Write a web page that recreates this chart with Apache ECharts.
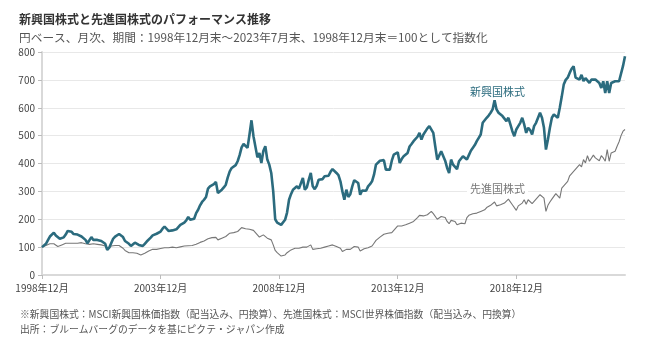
<!DOCTYPE html>
<html><head><meta charset="utf-8">
<script src="https://cdn.jsdelivr.net/npm/echarts@6/dist/echarts.min.js"></script>
<style>html,body{margin:0;padding:0;background:#fff}#c{width:650px;height:345px}</style>
</head><body><div id="c"></div>
<script>
// Monthly, 1998/12 .. 2023/07 (296 points)
const startYear = 1998, startMonth = 12, nMonths = 296;
const categories = [];
for (let i = 0; i < nMonths; i++) {
  const t = startMonth - 1 + i;
  categories.push((startYear + Math.floor(t / 12)) + '年' + (t % 12 + 1) + '月');
}
const emerging = [
  100,
  105,112,125,138,145,152,142,136,130,126,135,145,
  158,164,155,147,142,145,140,138,132,126,114,108,
  136,126,122,126,124,122,120,112,90,98,114,130,
  138,142,147,142,136,122,118,112,104,110,116,112,
  108,106,104,112,120,126,134,142,144,148,152,156,
  166,174,168,158,156,160,162,164,172,180,184,188,
  196,208,198,192,202,222,234,250,262,270,280,310,
  318,322,326,334,294,300,306,314,324,350,372,384,
  378,394,408,430,458,470,474,456,504,555,498,504,
  422,438,402,445,462,414,396,366,300,200,188,186,
  180,178,198,224,270,290,306,300,318,310,316,348,
  306,314,342,366,318,308,320,342,336,344,354,348,
  356,370,380,376,366,358,336,300,270,306,280,290,
  318,340,344,330,288,303,300,302,318,326,336,360,
  396,398,410,414,412,378,380,378,410,432,436,440,
  402,416,426,430,438,461,470,480,474,496,510,486,
  504,498,526,534,534,510,461,414,420,444,438,410,
  384,366,414,396,388,380,408,414,426,420,414,430,
  446,452,466,480,492,504,546,552,564,572,582,594,
  627,594,582,578,570,561,552,564,540,516,498,522,
  534,546,564,540,510,528,520,504,534,546,564,582,
  564,528,450,486,528,564,576,570,564,600,640,683,
  700,708,725,740,749,708,713,701,718,696,706,713,
  689,701,707,701,695,689,671,695,653,695,653,689,
  690,695,689,695,700,750,785
];
const developed = [
  100,
  104,106,110,112,114,112,106,102,104,108,110,114,
  116,114,118,114,112,114,113,116,114,112,108,110,
  114,112,108,110,108,108,106,104,90,96,104,108,
  106,104,106,102,96,88,84,80,76,80,82,78,
  74,72,72,78,84,86,90,92,90,92,94,95,
  97,98,97,98,100,100,99,98,100,101,102,104,
  103,105,103,106,108,110,114,117,120,122,128,130,
  132,134,136,135,126,128,132,134,138,144,150,156,
  152,150,156,162,170,172,166,160,164,168,160,156,
  144,136,132,144,142,132,128,126,108,88,80,76,
  68,66,72,80,86,90,94,96,98,96,98,100,
  100,100,104,108,92,90,94,90,96,98,100,102,
  104,104,108,106,102,98,96,84,86,92,90,92,
  96,102,104,100,86,90,94,96,98,100,104,114,
  124,128,136,142,146,144,150,146,152,160,168,176,
  170,176,178,180,182,186,188,192,198,206,214,210,
  212,218,216,220,228,220,216,200,196,210,214,206,
  192,184,196,198,192,180,186,186,182,184,206,214,
  214,220,220,222,226,228,232,234,242,248,250,256,
  262,248,244,252,256,258,264,272,268,252,250,232,
  248,254,258,270,254,270,264,256,262,272,278,288,
  290,276,228,250,262,272,282,292,284,276,312,320,
  324,336,356,364,370,380,384,396,388,414,402,428,
  408,414,430,420,424,410,428,420,408,450,408,438,
  436,444,462,478,500,516,522
];
const seriesNames = ['新興国株式', '先進国株式'];
const yTicks = [0, 100, 200, 300, 400, 500, 600, 700, 800];

const FONT = '"Noto Sans CJK JP", "Noto Sans", sans-serif';
const chart = echarts.init(document.getElementById('c'), null, {renderer: 'canvas'});
chart.setOption({
  animation: false,
  backgroundColor: '#fff',
  textStyle: {fontFamily: FONT},
  title: [
    {text: '新興国株式と先進国株式のパフォーマンス推移', left: 14, top: 8,
     textStyle: {fontSize: 12, fontWeight: 'bold', color: '#333', fontFamily: FONT}},
    {text: '円ベース、月次、期間：1998年12月末～2023年7月末、1998年12月末＝100として指数化', left: 14, top: 27,
     textStyle: {fontSize: 11.7, fontWeight: 'normal', color: '#555', fontFamily: FONT}},
    {text: '※新興国株式：MSCI新興国株価指数（配当込み、円換算）、先進国株式：MSCI世界株価指数（配当込み、円換算）', left: 15, top: 304,
     textStyle: {fontSize: 9.8, fontWeight: 'normal', color: '#555', fontFamily: FONT}},
    {text: '出所：ブルームバーグのデータを基にピクテ・ジャパン作成', left: 15, top: 319,
     textStyle: {fontSize: 9.8, fontWeight: 'normal', color: '#555', fontFamily: FONT}}
  ],
  grid: {left: 42, right: 25, top: 52, bottom: 70, containLabel: false},
  xAxis: {
    type: 'category', data: categories, boundaryGap: false,
    axisLine: {lineStyle: {color: '#d9d9d9', width: 2}},
    axisTick: {show: true, interval: 59, length: 4, lineStyle: {color: '#bbb'}},
    axisLabel: {interval: 59, color: '#444', fontSize: 10, margin: 8, fontFamily: FONT},
    splitLine: {show: false}
  },
  yAxis: {
    type: 'value', min: yTicks[0], max: yTicks[yTicks.length - 1], interval: 100,
    axisLine: {show: true, lineStyle: {color: '#d9d9d9', width: 2}},
    axisTick: {show: true, length: 4, lineStyle: {color: '#bbb'}},
    axisLabel: {color: '#444', fontSize: 10, margin: 7, fontFamily: FONT},
    splitLine: {lineStyle: {color: '#e8e8e8', width: 1}}
  },
  series: [
    {name: seriesNames[1], type: 'line', data: developed, symbol: 'none', z: 2,
     lineStyle: {color: '#777', width: 1.1}},
    {name: seriesNames[0], type: 'line', data: emerging, symbol: 'none', z: 3,
     lineStyle: {color: '#2b6b7e', width: 2.6}}
  ],
  graphic: [
    {type: 'text', left: 467, top: 86, z: 10,
     style: {text: seriesNames[0], fill: '#2b6b7e', font: '11px ' + FONT,
             backgroundColor: '#fff', padding: [0, 3]}},
    {type: 'text', left: 467, top: 183, z: 10,
     style: {text: seriesNames[1], fill: '#777', font: '11px ' + FONT,
             backgroundColor: '#fff', padding: [0, 3]}}
  ]
});
</script></body></html>
